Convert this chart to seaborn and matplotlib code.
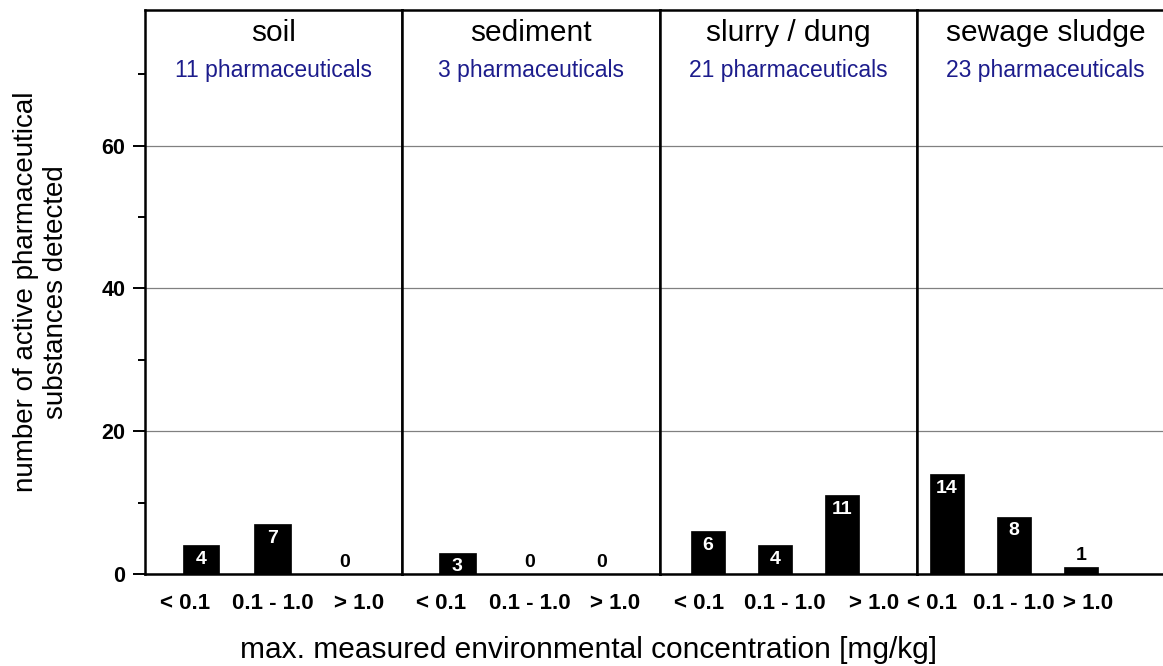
# pharmaceuticals detected in environmental matrices - bar panels
import pandas as pd
import matplotlib.pyplot as plt
from matplotlib.ticker import MultipleLocator
import seaborn as sns

# -----------------------------
# data
# -----------------------------
media = ["soil", "sediment", "slurry / dung", "sewage sludge"]
n_pharma = [11, 3, 21, 23]
conc_classes = ["< 0.1", "0.1 - 1.0", "> 1.0"]
soil = [4, 7, 0]
sediment = [3, 0, 0]
slurry = [6, 4, 11]
sludge = [14, 8, 1]

counts = [soil, sediment, slurry, sludge]
rows = []
for m, vals in zip(media, counts):
    for c, v in zip(conc_classes, vals):
        rows.append({"medium": m, "conc": c, "count": v})
df = pd.DataFrame(rows)

# -----------------------------
# style
# -----------------------------
sns.set_theme(style="ticks")
plt.rcParams["font.family"] = ["Liberation Sans", "DejaVu Sans"]
plt.rcParams["text.color"] = "black"
plt.rcParams["xtick.color"] = "black"
plt.rcParams["ytick.color"] = "black"

W, H = 1163, 666
fig = plt.figure(figsize=(W / 100, H / 100), dpi=100)

left_px, right_px, top_px, bottom_px = 145, 1174, 10, 574
panel_w = (right_px - left_px) / 4
# per-panel x range (bar positions are 0, 1, 2) and tick label positions
xlims = [(-0.78, 2.81), (-0.76, 2.8), (-0.72, 3.12), (-0.45, 3.39)]
label_pos = [(-0.22, 1, 2.21), (-0.22, 1, 2.19), (-0.13, 1.15, 2.48), (-0.22, 1, 2.1)]

for i, m in enumerate(media):
    x0 = (left_px + i * panel_w) / W
    ax = fig.add_axes([x0, 1 - bottom_px / H, panel_w / W, (bottom_px - top_px) / H])
    sub = df[df["medium"] == m]
    sns.barplot(data=sub, x="conc", y="count", order=conc_classes, color="black",
                saturation=1, width=0.51, edgecolor="black", linewidth=0.5,
                ax=ax, zorder=3)
    ax.set_xlim(*xlims[i])
    ax.set_ylim(0, 79)
    ax.set_xlabel("")
    ax.set_ylabel("")

    # value labels
    for bar, v in zip(ax.patches, sub["count"]):
        cx = bar.get_x() + bar.get_width() / 2
        if v >= 3:
            ax.annotate(str(v), (cx, v), xytext=(0, -4), textcoords="offset points",
                        ha="center", va="top", color="white", fontsize=14,
                        fontweight="bold", zorder=4)
        else:
            ax.annotate(str(v), (cx, v), xytext=(0, 2), textcoords="offset points",
                        ha="center", va="bottom", color="black", fontsize=14,
                        fontweight="bold", zorder=4)

    # grid + spines
    ax.yaxis.set_major_locator(MultipleLocator(20))
    ax.yaxis.set_minor_locator(MultipleLocator(10))
    ax.grid(axis="y", which="major", color="#808080", linewidth=0.9, zorder=0)
    for s in ax.spines.values():
        s.set_color("black")
        s.set_linewidth(1.8)

    ax.set_xticks(label_pos[i])
    ax.set_xticklabels(conc_classes, fontweight="bold")
    ax.tick_params(axis="x", length=0, pad=14, labelsize=16)

    if i == 0:
        ax.tick_params(axis="y", which="major", direction="out", length=9, width=1.4,
                       pad=5, labelsize=15.5)
        ax.tick_params(axis="y", which="minor", direction="out", length=5, width=1.4)
        ax.set_yticks([0, 20, 40, 60])
        for lab in ax.get_yticklabels():
            lab.set_fontweight("bold")
    else:
        ax.tick_params(axis="y", which="both", left=False, labelleft=False)

    # panel titles
    ax.text(0.5, 0.959, m, transform=ax.transAxes, ha="center", va="center",
            fontsize=21.5, color="black")
    ax.text(0.5, 0.892, f"{n_pharma[i]} pharmaceuticals", transform=ax.transAxes,
            ha="center", va="center", fontsize=16.5, color="#1c1c8c")

fig.text(41 / W, 1 - 292 / H, "number of active pharmaceutical\nsubstances detected",
         rotation=90, ha="center", va="center", multialignment="center", fontsize=20,
         linespacing=1.2)
fig.text(588 / W, 1 - 650 / H, "max. measured environmental concentration [mg/kg]",
         ha="center", va="center", fontsize=21.5)

fig.savefig("out.png", dpi=100)
